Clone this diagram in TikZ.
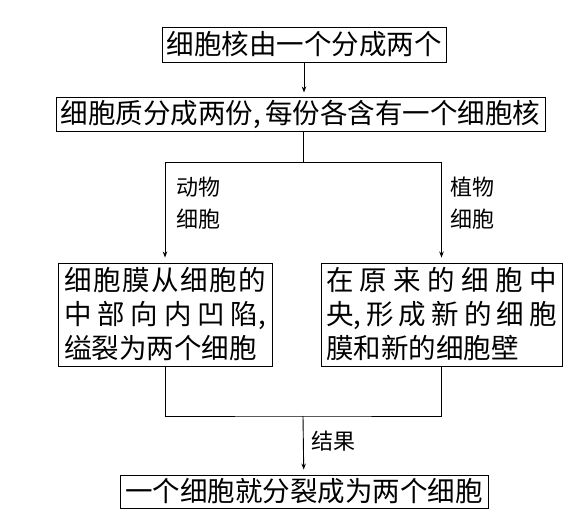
\documentclass[tikz,border=0pt]{standalone}
\usepackage{fontspec}
\setmainfont{Noto Sans CJK SC}
\usetikzlibrary{arrows.meta,positioning}

\begin{document}
\begin{tikzpicture}[
  x=1pt, y=1pt,
  box/.style={draw, line width=0.9pt, inner xsep=4pt, inner ysep=2pt, align=center, font=\fontsize{27.5pt}{34pt}\selectfont},
  lab/.style={align=left, inner sep=0pt, font=\fontsize{22pt}{32pt}\selectfont},
  arr/.style={-{Stealth[length=6pt,width=4.5pt]}, line width=0.9pt, shorten >=5pt},
  ln/.style={line width=0.9pt}
]
\useasboundingbox (0,0) rectangle (568,-513);
\node[box, minimum width=284pt, minimum height=35pt] (nuc) at (304,-44.5) {细胞核由一个分成两个};
\node[box, inner xsep=2pt, minimum width=489pt, minimum height=34pt, below=35pt of nuc, xshift=-3.5pt] (cyto) {细胞质分成两份,\,每份各含有一个细胞核};
\node[box, align=left, minimum width=214pt, minimum height=103pt] (animal) at (165,-314.5)
  {\makebox[202pt][s]{细\hfil 胞\hfil 膜\hfil 从\hfil 细\hfil 胞\hfil 的}\\
   \makebox[202pt][s]{中\hfil 部\hfil 向\hfil 内\hfil 凹\hfil 陷,}\\
   缢裂为两个细胞};
\node[box, align=left, minimum width=241pt, minimum height=103pt] (plant) at (441.5,-314.5)
  {\makebox[231pt][s]{在\hfil 原\hfil 来\hfil 的\hfil 细\hfil 胞\hfil 中}\\
   \makebox[231pt][s]{央,\hfil 形\hfil 成\hfil 新\hfil 的\hfil 细\hfil 胞}\\
   膜和新的细胞壁};
\node[box, minimum width=368pt, minimum height=33pt] (result) at (304,-491.5) {一个细胞就分裂成为两个细胞};
% labels beside the arrows
\node[lab] (animallab) at (198,-203) {动物\\细胞};
\node[lab] (plantlab) at (472,-203) {植物\\细胞};
\node[lab] (reslab) at (333,-441) {结果};
\coordinate (split) at (303,-162.5);
\coordinate (join) at (303,-416);
\draw[arr] (nuc) -- (nuc.south |- cyto.north);
\draw[ln] (cyto.south -| split) -- (split);
\draw[arr] (split) -| (animal);
\draw[arr] (split) -| (plant);
\draw[ln] (animal.south) |- (join) -| (plant.south);
\draw[arr] (join) -- (result);
\end{tikzpicture}
\end{document}
